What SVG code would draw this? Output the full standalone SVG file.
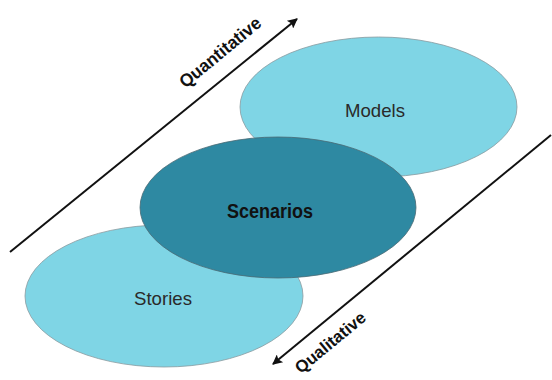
<svg xmlns="http://www.w3.org/2000/svg" width="552" height="380" viewBox="0 0 552 380">
<style>
.light{fill:#7fd5e5;stroke:#8a9ba0;stroke-width:0.8}
.dark{fill:#2e89a2;stroke:#4a6a74;stroke-width:0.8}
.lbl{font-family:"Liberation Sans",Arial,sans-serif;fill:#2a2a2a;text-anchor:middle}
.axis{font-family:"Liberation Sans",Arial,sans-serif;font-weight:bold;fill:#111;text-anchor:middle}
.conn{stroke:#111;stroke-width:2;fill:none;marker-end:url(#ah)}
</style>
<defs>
<marker id="ah" viewBox="0 0 10 10" refX="9" refY="5" markerWidth="13" markerHeight="10" markerUnits="userSpaceOnUse" orient="auto">
<path d="M0,0 L10,5 L0,10 L2,5 z" fill="#111"/>
</marker>
</defs>
<rect width="552" height="380" fill="#fff"/>
<g id="connectors">
<line class="conn" x1="10" y1="252" x2="297" y2="19"/>
<line class="conn" x1="551" y1="135" x2="273" y2="364"/>
</g>
<g id="models">
<ellipse class="light" cx="378.5" cy="107" rx="138.5" ry="70"/>
<text class="lbl" x="375" y="117" font-size="19" textLength="60" lengthAdjust="spacingAndGlyphs">Models</text>
</g>
<g id="stories">
<ellipse class="light" cx="164" cy="296" rx="139" ry="71"/>
<text class="lbl" x="163" y="305" font-size="19" textLength="58" lengthAdjust="spacingAndGlyphs">Stories</text>
</g>
<g id="scenarios">
<ellipse class="dark" cx="278" cy="207.5" rx="138" ry="70.5"/>
<text class="lbl" x="270" y="218" font-size="20" font-weight="bold" style="fill:#111" textLength="86" lengthAdjust="spacingAndGlyphs">Scenarios</text>
</g>
<g id="label-quantitative">
<text class="axis" x="0" y="0" font-size="18" textLength="100" lengthAdjust="spacingAndGlyphs" transform="translate(224,57) rotate(-39.5)">Quantitative</text>
</g>
<g id="label-qualitative">
<text class="axis" x="0" y="0" font-size="17" textLength="86" lengthAdjust="spacingAndGlyphs" transform="translate(334,347) rotate(-39.5)">Qualitative</text>
</g>
</svg>
